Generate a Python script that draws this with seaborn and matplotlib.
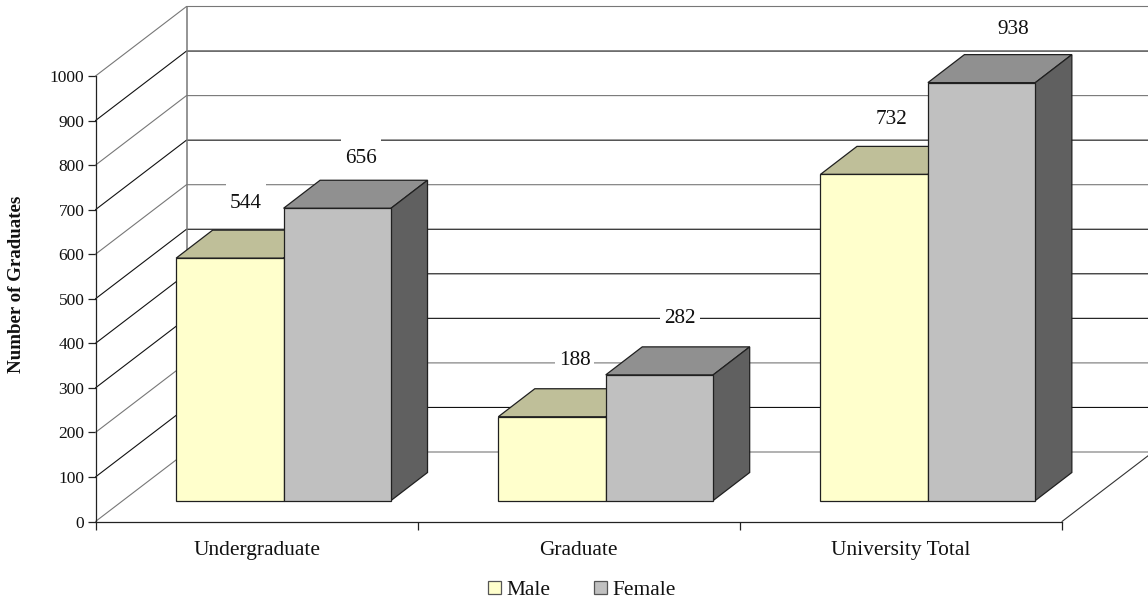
import matplotlib
matplotlib.use("Agg")
import matplotlib.pyplot as plt
from matplotlib.patches import Polygon, Rectangle
from matplotlib.transforms import Affine2D, IdentityTransform
import numpy as np
import pandas as pd
import seaborn as sns

CATEGORIES = ["Undergraduate", "Graduate", "University Total"]
SERIES = ["Male", "Female"]
MALE = [544, 188, 732]
FEMALE = [656, 282, 938]
Y_TICKS = list(range(0, 1001, 100))
Y_TITLE = "Number of Graduates"

FRONT = {"Male": "#FFFFCC", "Female": "#C0C0C0"}
TOP = {"Male": "#BFBF99", "Female": "#909090"}
SIDE = {"Male": "#7F7F66", "Female": "#606060"}

df = pd.DataFrame({
    "category": CATEGORIES * 2,
    "series": ["Male"] * 3 + ["Female"] * 3,
    "value": MALE + FEMALE,
})

sns.set_style("white")
plt.rcParams["font.family"] = ["Liberation Serif", "DejaVu Serif"]

W, H = 1148, 600
fig = plt.figure(figsize=(W / 100, H / 100), dpi=100, facecolor="white")
L, R, T, B = 95.5, 1062, 76, 521.5
ax = fig.add_axes([L / W, 1 - B / H, (R - L) / W, (B - T) / H])
ax.patch.set_visible(False)

sns.barplot(data=df, x="category", y="value", hue="series", hue_order=SERIES,
            palette=FRONT, width=0.667, gap=0, dodge=True, saturation=1,
            edgecolor="#202020", linewidth=0.9, ax=ax, zorder=5)
handles, labels = ax.get_legend_handles_labels()
if ax.get_legend():
    ax.get_legend().remove()

ax.set_xlim(-0.5, 2.5)
ax.set_ylim(0, 1000)

# floor / wall geometry, in pixels
WALL_DX, WALL_DY = 91, 69.5
BAR_DX, BAR_DY = 27, 21
DEPTH_DX, DEPTH_DY = 36.5, 28
bar_shift = Affine2D().translate(BAR_DX, BAR_DY)

# walls: grid
GREY_LEVELS = {1000, 800, 600, 200, 0}
for v in Y_TICKS:
    c = "#777777" if v in GREY_LEVELS else "#111111"
    x0, y0 = ax.transData.transform((-0.5, v))
    x1, y1 = ax.transData.transform((2.5, v))
    ax.plot([x0, x0 + WALL_DX, x1 + WALL_DX], [y0, y0 + WALL_DY, y1 + WALL_DY],
            color=c, lw=0.8, transform=IdentityTransform(), clip_on=False,
            zorder=1, solid_joinstyle="miter")
xb, yb0 = ax.transData.transform((-0.5, 0))
_, yb1 = ax.transData.transform((-0.5, 1000))
ax.plot([xb + WALL_DX] * 2, [yb0 + WALL_DY, yb1 + WALL_DY], color="#777777", lw=1.1,
        transform=IdentityTransform(), clip_on=False, zorder=1.5)
xr, yr = ax.transData.transform((2.5, 0))
ax.plot([xr, xr + WALL_DX], [yr, yr + WALL_DY], color="#333333", lw=0.8,
        transform=IdentityTransform(), clip_on=False, zorder=1)

# 3D bars
bars = [p for p in ax.patches]
order = [(s, i) for s in SERIES for i in range(3)]
data_trans = ax.transData + bar_shift
for patch, (s, i) in zip(bars, order):
    h_i = SERIES.index(s)
    base = 5 + i * 10 + h_i * 3
    x, w, h = patch.get_x(), patch.get_width(), patch.get_height()
    patch.set_transform(data_trans)
    patch.set_clip_on(False)
    patch.set_zorder(base + 2)
    (xl, yb), (xr_, yt) = data_trans.transform([(x, 0), (x + w, h)])
    top = [(xl, yt), (xr_, yt), (xr_ + DEPTH_DX, yt + DEPTH_DY), (xl + DEPTH_DX, yt + DEPTH_DY)]
    side = [(xr_, yb), (xr_ + DEPTH_DX, yb + DEPTH_DY), (xr_ + DEPTH_DX, yt + DEPTH_DY), (xr_, yt)]
    ax.add_patch(Polygon(top, closed=True, fc=TOP[s], ec="#202020", lw=0.9,
                         transform=IdentityTransform(), clip_on=False, zorder=base))
    ax.add_patch(Polygon(side, closed=True, fc=SIDE[s], ec="#202020", lw=0.9,
                         transform=IdentityTransform(), clip_on=False, zorder=base + 1))

# value labels: white knock-out boxes cut the grid lines behind the text
LABEL_NUDGE = {"Male": [(16, 55), (22.5, 56.7), (17.5, 55)],
               "Female": [(24, 50), (20.5, 56.5), (32, 53.6)]}
renderer = fig.canvas.get_renderer()
for patch, (s, i) in zip(bars, order):
    nx, ny = LABEL_NUDGE[s][i]
    ann = ax.annotate(str(int(patch.get_height())),
                      xy=(patch.get_x() + patch.get_width() / 2, patch.get_height()),
                      xycoords="data", xytext=(nx + BAR_DX, ny + BAR_DY),
                      textcoords="offset pixels", ha="center", va="center",
                      fontsize=15.3, color="#111111", zorder=3, annotation_clip=False)
    ext = ann.get_window_extent(renderer)
    ax.add_patch(Rectangle((ext.x0 - 4, ext.y0 - 3), ext.width + 8, ext.height + 3 + 11,
                           fc="white", ec="none", transform=IdentityTransform(),
                           clip_on=False, zorder=2))

# axes
sns.despine(ax=ax, top=True, right=True)
for sp in ("left", "bottom"):
    ax.spines[sp].set_color("#222222")
    ax.spines[sp].set_linewidth(0.9)
    ax.spines[sp].set_zorder(2)
ax.set_yticks(Y_TICKS)
ax.set_xticks(range(3), CATEGORIES)
ax.set_xticks([-0.5, 0.5, 1.5, 2.5], minor=True)
ax.tick_params(axis="y", left=True, length=6, width=0.9, color="#222222",
               labelsize=12.5, pad=2, labelcolor="#111111")
ax.tick_params(axis="x", which="major", bottom=False, length=0, labelsize=15.4,
               pad=14, labelcolor="#111111")
ax.tick_params(axis="x", which="minor", bottom=True, length=6, width=0.9, color="#222222")
ax.set_xlabel("")
ax.set_ylabel("")
fig.text(16.5 / W, 1 - 284 / H, Y_TITLE, rotation=90, ha="center", va="center",
         fontsize=13.6, fontweight="bold", color="#111111")

for hd, s in zip(handles, labels):
    hd.set_facecolor(FRONT[s])
    hd.set_edgecolor("#555555")
    hd.set_linewidth(0.9)
fig.legend(handles, labels, loc="center", bbox_to_anchor=(582 / W, 1 - 590.5 / H),
           ncol=2, frameon=False, fontsize=15.4, handlelength=0.6, handleheight=0.6,
           handletextpad=0.25, columnspacing=2.05, borderpad=0, labelcolor="#111111")

fig.savefig("out.png", dpi=100, facecolor="white")
